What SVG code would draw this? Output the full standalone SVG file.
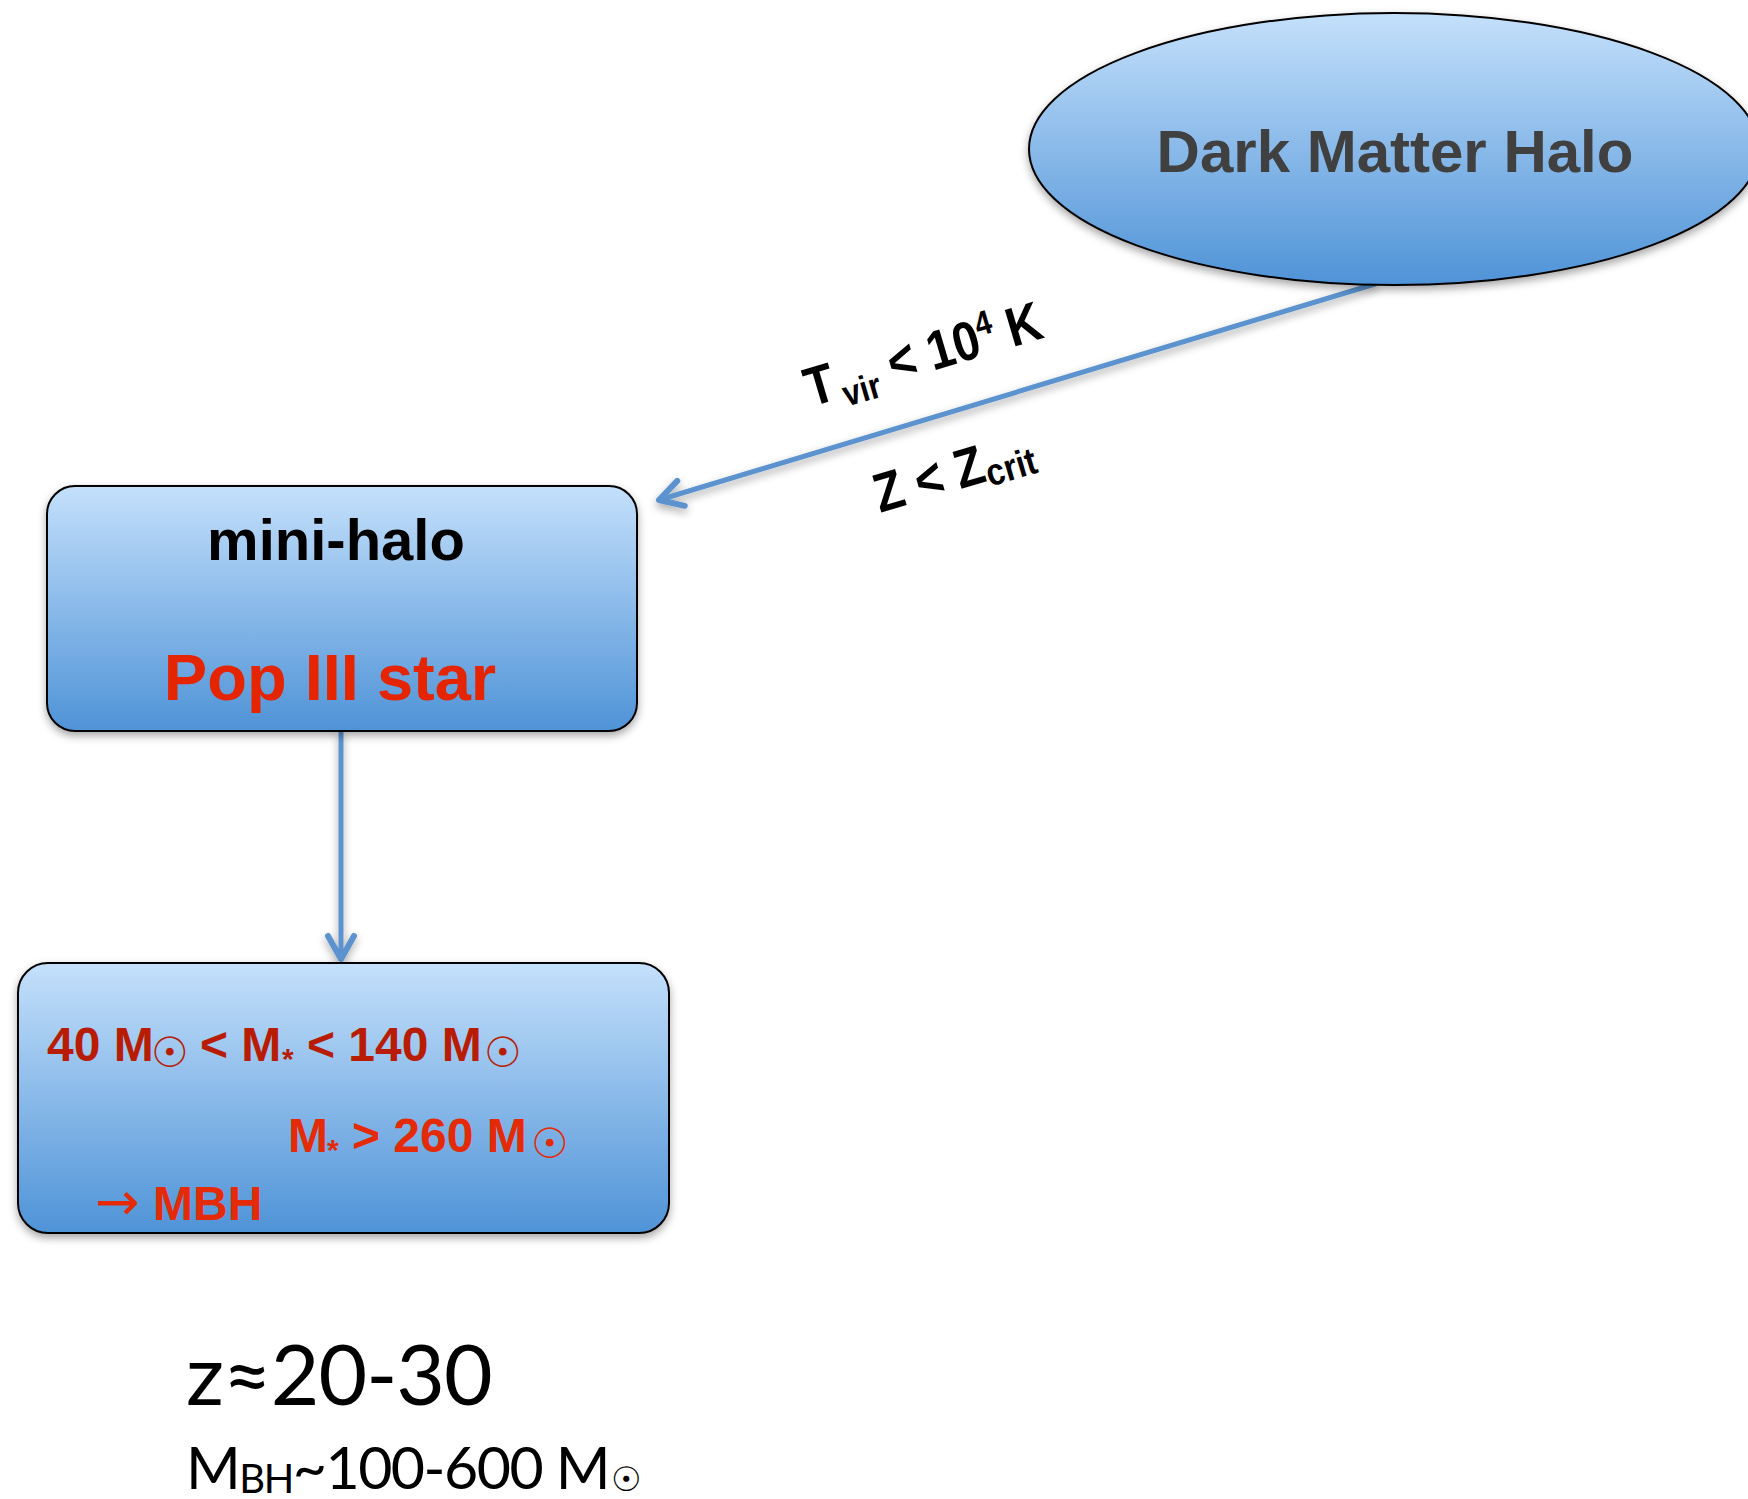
<svg xmlns="http://www.w3.org/2000/svg" width="1748" height="1499" viewBox="0 0 1748 1499">
  <style>
    .shape { stroke: #000; stroke-width: 2; }
    .conn { fill: none; stroke: #5b93cf; stroke-width: 5; stroke-linecap: round; }
    .sans { font-family: "Liberation Sans", Arial, sans-serif; font-weight: bold; }
    .sym { font-family: "DejaVu Sans", sans-serif; font-weight: normal; }
    .label { fill: #000; font-size: 55px; }
    .red1 { fill: #b81c04; font-size: 48px; }
    .red2 { fill: #e42a06; font-size: 48px; }
    .humanist { font-family: Lato, "Open Sans", sans-serif; fill: #000; }
  </style>
  <defs>
    <linearGradient id="blueFill" x1="0" y1="0" x2="0" y2="1">
      <stop offset="0" stop-color="#c4e0fb"/>
      <stop offset="1" stop-color="#4f93d7"/>
    </linearGradient>
    <filter id="shadow" x="-10%" y="-10%" width="120%" height="130%">
      <feDropShadow dx="0" dy="4" stdDeviation="4" flood-color="#000" flood-opacity="0.35"/>
    </filter>
    <marker id="openArrow" markerUnits="userSpaceOnUse" orient="auto" refX="0" refY="0"
            markerWidth="60" markerHeight="60" viewBox="-30 -30 60 60" overflow="visible">
      <path d="M-23,-13 L0,0 L-23,13" fill="none" stroke="#5b93cf" stroke-width="6"
            stroke-linecap="round" stroke-linejoin="round"/>
    </marker>
  </defs>

  <rect width="1748" height="1499" fill="#fff"/>

  <!-- connectors -->
  <g id="connectors" filter="url(#shadow)">
    <line class="conn" x1="1375" y1="284" x2="659" y2="500" marker-end="url(#openArrow)"/>
    <line class="conn" x1="341" y1="733" x2="341" y2="959" marker-end="url(#openArrow)"/>
  </g>

  <!-- dark matter halo -->
  <g id="dark-matter-halo">
    <ellipse class="shape" cx="1394" cy="149" rx="365" ry="136" fill="url(#blueFill)" filter="url(#shadow)"/>
    <text class="sans" x="1395" y="172" font-size="60" fill="#404040" text-anchor="middle">Dark Matter Halo</text>
  </g>

  <!-- edge labels (condensed by a horizontal scale) -->
  <g id="edge-labels" class="sans label">
    <text transform="translate(811,407) rotate(-16.5) scale(0.87,1)">T<tspan font-size="36" dx="6" dy="10">vir</tspan><tspan dy="-10"> &lt; 10</tspan><tspan font-size="34" dy="-20">4</tspan><tspan dy="20"> K</tspan></text>
    <text transform="translate(880,513) rotate(-16.5) scale(0.87,1)">Z &lt; Z<tspan font-size="38" dy="6">crit</tspan></text>
  </g>

  <!-- mini-halo -->
  <g id="mini-halo">
    <rect class="shape" x="47" y="486" width="590" height="245" rx="28" fill="url(#blueFill)" filter="url(#shadow)"/>
    <text class="sans" x="336" y="560" font-size="58" fill="#000" text-anchor="middle">mini-halo</text>
    <text class="sans" x="330" y="700" font-size="65" fill="#e52400" text-anchor="middle">Pop III star</text>
  </g>

  <!-- stellar mass outcomes -->
  <g id="stellar-mass">
    <rect class="shape" x="18" y="963" width="651" height="270" rx="30" fill="url(#blueFill)" filter="url(#shadow)"/>
    <text class="sans red1" y="1061">
      <tspan x="47">40 M</tspan><tspan class="sym" x="151" dy="6" font-size="42">☉</tspan><tspan x="200" dy="-6">&lt; M</tspan><tspan x="282" dy="8" font-size="30">*</tspan><tspan x="307" dy="-8">&lt; 140 M</tspan><tspan class="sym" x="484" dy="6" font-size="42">☉</tspan>
    </text>
    <text class="sans red2" y="1152">
      <tspan x="288">M</tspan><tspan x="327" dy="8" font-size="30">*</tspan><tspan x="352" dy="-8">&gt; 260 M</tspan><tspan class="sym" x="531" dy="6" font-size="42">☉</tspan>
    </text>
    <text class="sans red2" y="1220">
      <tspan class="sym" x="95" font-size="53">→</tspan><tspan x="153">MBH</tspan>
    </text>
  </g>

  <!-- redshift and black hole mass -->
  <g id="summary">
    <text class="humanist" x="186" y="1405" font-size="84" letter-spacing="-1">z≈20-30</text>
    <text class="humanist" x="186" y="1489" font-size="59" letter-spacing="-1.5">M<tspan font-size="40" dy="4">BH</tspan><tspan dy="-4">~100-600 M</tspan><tspan class="sym" font-size="34" dx="2" dy="2">☉</tspan></text>
  </g>
</svg>
